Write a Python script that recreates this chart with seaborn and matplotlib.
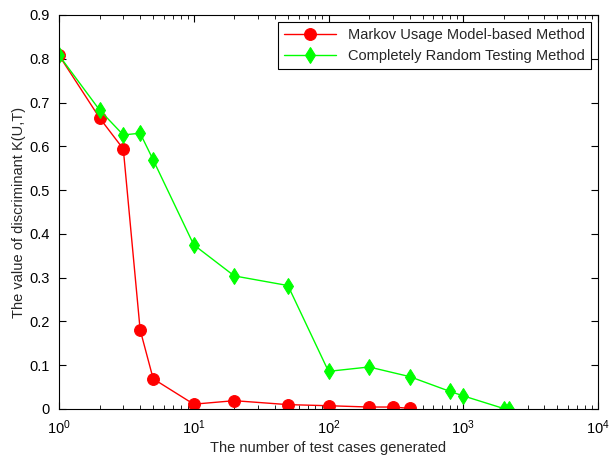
import numpy as np
import pandas as pd
import seaborn as sns
import matplotlib.pyplot as plt
from matplotlib.ticker import LogLocator, NullFormatter

# data
markov_x = [1, 2, 3, 4, 5, 10, 20, 50, 100, 200, 300, 400]
markov_y = [0.808, 0.665, 0.594, 0.181, 0.069, 0.011, 0.019, 0.010, 0.0075, 0.0045, 0.0045, 0.0015]

random_x = [1, 2, 3, 4, 5, 10, 20, 50, 100, 200, 400, 800, 1000, 2000, 2200]
random_y = [0.808, 0.683, 0.626, 0.630, 0.569, 0.375, 0.304, 0.282, 0.086, 0.096, 0.074, 0.040, 0.030, 0.001, 0.001]

label_markov = 'Markov Usage Model-based Method'
label_random = 'Completely Random Testing Method'

sns.set_style('ticks')
plt.rcParams['font.family'] = ['Liberation Sans', 'DejaVu Sans']

fig = plt.figure(figsize=(6.1, 4.59), dpi=100)
ax = fig.add_axes([59 / 610, 1 - 409 / 459, (598 - 59) / 610, (409 - 15) / 459])

sns.lineplot(x=markov_x, y=markov_y, ax=ax, color='#ff0000', marker='o', markersize=8.5,
             markeredgecolor='#ff0000', linewidth=1, label=label_markov)
sns.lineplot(x=random_x, y=random_y, ax=ax, color='#00ff00', marker='d', markersize=8,
             markeredgecolor='#00ff00', linewidth=1, label=label_random)

ax.set_xscale('log')
ax.set_xlim(1, 1e4)
ax.set_ylim(0, 0.9)
ax.set_yticks(np.arange(0, 0.91, 0.1))
ax.set_yticklabels(['0', '0.1', '0.2', '0.3', '0.4', '0.5', '0.6', '0.7', '0.8', '0.9'])
ax.xaxis.set_major_locator(LogLocator(base=10, numticks=10))
ax.xaxis.set_minor_locator(LogLocator(base=10, subs=np.arange(2, 10), numticks=20))
ax.xaxis.set_minor_formatter(NullFormatter())

ax.tick_params(which='both', direction='in', top=True, right=True, labelsize=10.5, colors='black')
ax.tick_params(which='major', length=5)
ax.tick_params(which='minor', length=3)
ax.tick_params(axis='x', which='major', pad=7)
ax.tick_params(axis='y', which='major', pad=7)
for s in ax.spines.values():
    s.set_visible(True)
    s.set_linewidth(0.8)
    s.set_color('black')

ax.set_xlabel('The number of test cases generated', fontsize=10.5, labelpad=3)
ax.set_ylabel('The value of discriminant K(U,T)', fontsize=10.5, labelpad=2)

leg = ax.legend(loc='upper right', fontsize=10.5, frameon=True, fancybox=False,
                edgecolor='black', framealpha=1, borderaxespad=0.5, handlelength=3.6,
                labelspacing=0.5)
leg.get_frame().set_linewidth(0.8)

fig.savefig('out.png', dpi=100)
